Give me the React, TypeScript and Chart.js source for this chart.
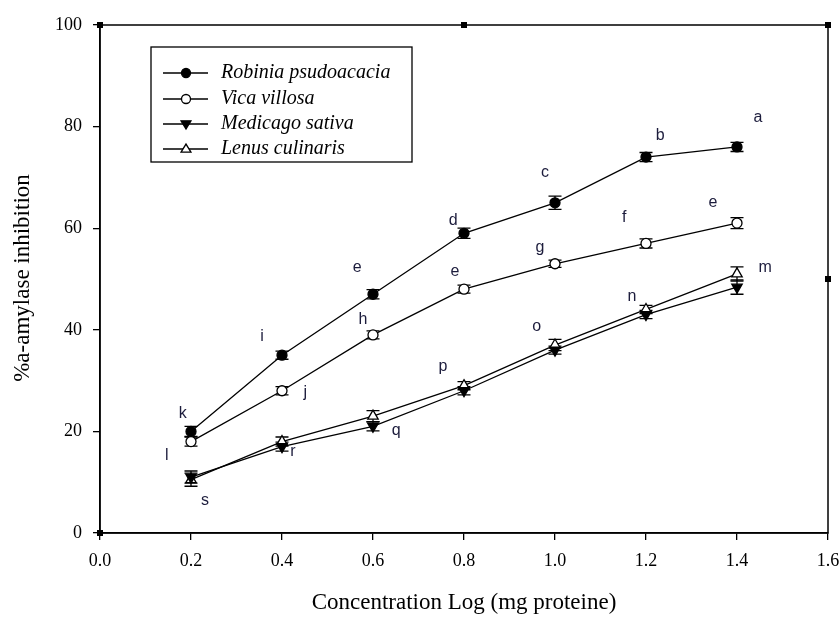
import React, { useEffect, useRef } from "react";
import { Chart, registerables } from "chart.js";

Chart.register(...registerables);

const xValues = [0.2, 0.4, 0.6, 0.8, 1.0, 1.2, 1.4];
const seriesNames = ["Robinia psudoacacia", "Vica villosa", "Medicago sativa", "Lenus culinaris"];
const robinia = [20, 35, 47, 59, 65, 74, 76];
const vica = [18, 28, 39, 48, 53, 57, 61];
const medicago = [11, 17, 21, 28, 36, 43, 48.4];
const lenus = [10.5, 18, 23, 29, 37, 44, 51];
const robiniaErr = [1, 0.8, 0.9, 1, 1.3, 0.9, 0.9];
const vicaErr = [0.9, 0.8, 0.8, 0.8, 0.7, 0.9, 1.1];
const medicagoErr = [1.2, 0.9, 0.9, 0.8, 0.8, 0.8, 1.4];
const lenusErr = [1.3, 0.9, 1.1, 0.8, 1.1, 0.8, 1.4];

const xTicks = [0, 0.2, 0.4, 0.6, 0.8, 1.0, 1.2, 1.4, 1.6];
const yTicks = [0, 20, 40, 60, 80, 100];

const letterText = ["k", "i", "e", "d", "c", "b", "a", "l", "s", "j", "h", "e", "g", "f", "e", "r", "q", "p", "o", "n", "m"];
const letterX = [0.182, 0.356, 0.565, 0.776, 0.978, 1.231, 1.446, 0.147, 0.231, 0.451, 0.578, 0.78, 0.967, 1.152, 1.347, 0.424, 0.651, 0.754, 0.96, 1.169, 1.462];
const letterY = [23.6, 38.6, 52.2, 61.4, 70.9, 78.3, 81.7, 15.2, 6.3, 27.6, 42.1, 51.4, 56.1, 62.0, 65.0, 16.1, 20.1, 32.7, 40.6, 46.5, 52.2];

const xTitle = "Concentration Log (mg proteine)";
const yTitle = "%a-amylase inhibition";

const errorSets = [robiniaErr, vicaErr, medicagoErr, lenusErr];

function drawMarker(ctx: CanvasRenderingContext2D, kind: number, x: number, y: number, r: number) {
  ctx.save();
  ctx.lineWidth = 1.3;
  ctx.strokeStyle = "#000";
  ctx.fillStyle = kind === 0 || kind === 2 ? "#000" : "#fff";
  ctx.beginPath();
  if (kind === 0 || kind === 1) {
    ctx.arc(x, y, r, 0, Math.PI * 2);
  } else if (kind === 2) {
    ctx.moveTo(x - r * 1.1, y - r * 0.7);
    ctx.lineTo(x + r * 1.1, y - r * 0.7);
    ctx.lineTo(x, y + r * 1.1);
    ctx.closePath();
  } else {
    ctx.moveTo(x - r * 1.1, y + r * 0.7);
    ctx.lineTo(x + r * 1.1, y + r * 0.7);
    ctx.lineTo(x, y - r * 1.1);
    ctx.closePath();
  }
  ctx.fill();
  ctx.stroke();
  ctx.restore();
}

const errorBarPlugin = {
  id: "errorBars",
  beforeDatasetsDraw(chart: any) {
    const ctx = chart.ctx;
    const xs = chart.scales.x;
    const ys = chart.scales.y;
    ctx.save();
    ctx.strokeStyle = "#000";
    ctx.lineWidth = 1.3;
    chart.data.datasets.forEach((ds: any, i: number) => {
      const errs = errorSets[i];
      ds.data.forEach((p: any, j: number) => {
        const px = xs.getPixelForValue(p.x);
        const top = ys.getPixelForValue(p.y + errs[j]);
        const bot = ys.getPixelForValue(p.y - errs[j]);
        ctx.beginPath();
        ctx.moveTo(px, top);
        ctx.lineTo(px, bot);
        ctx.moveTo(px - 6.5, top);
        ctx.lineTo(px + 6.5, top);
        ctx.moveTo(px - 6.5, bot);
        ctx.lineTo(px + 6.5, bot);
        ctx.stroke();
      });
    });
    ctx.restore();
  },
};

const decorPlugin = {
  id: "decor",
  afterDraw(chart: any) {
    const ctx = chart.ctx;
    const a = chart.chartArea;
    const xs = chart.scales.x;
    const ys = chart.scales.y;
    ctx.save();
    // frame
    ctx.strokeStyle = "#000";
    ctx.lineWidth = 1.5;
    ctx.strokeRect(a.left, a.top, a.right - a.left, a.bottom - a.top);
    // little squares
    ctx.fillStyle = "#000";
    const sq: [number, number][] = [[0, 100], [0.8, 100], [1.6, 100], [1.6, 50], [0, 0]];
    sq.forEach(([vx, vy]) => {
      const px = xs.getPixelForValue(vx);
      const py = ys.getPixelForValue(vy);
      ctx.fillRect(px - 3, py - 3, 6, 6);
    });
    // letters
    ctx.font = "16px 'Liberation Sans', Arial, sans-serif";
    ctx.fillStyle = "#1c1c3c";
    ctx.textAlign = "center";
    ctx.textBaseline = "middle";
    letterText.forEach((t, i) => {
      ctx.fillText(t, xs.getPixelForValue(letterX[i]), ys.getPixelForValue(letterY[i]));
    });
    // axis titles
    ctx.fillStyle = "#000";
    ctx.font = "23px 'Liberation Serif', 'Times New Roman', serif";
    ctx.textAlign = "center";
    ctx.textBaseline = "middle";
    ctx.fillText(xTitle, (a.left + a.right) / 2, 603);
    ctx.save();
    ctx.translate(23, 278);
    ctx.rotate(-Math.PI / 2);
    ctx.fillText(yTitle, 0, 0);
    ctx.restore();
    // legend
    ctx.lineWidth = 1.3;
    ctx.strokeStyle = "#000";
    ctx.strokeRect(151, 47, 261, 115);
    const rows = [73, 99, 124, 149];
    ctx.font = "italic 20px 'Liberation Serif', 'Times New Roman', serif";
    ctx.textAlign = "left";
    ctx.textBaseline = "middle";
    seriesNames.forEach((name, i) => {
      const y = rows[i];
      ctx.beginPath();
      ctx.moveTo(163, y);
      ctx.lineTo(208, y);
      ctx.stroke();
      drawMarker(ctx, i, 186, y, 4.5);
      ctx.fillStyle = "#000";
      ctx.fillText(name, 221, y);
    });
    ctx.restore();
  },
};

export default function App() {
  const ref = useRef<HTMLCanvasElement | null>(null);
  useEffect(() => {
    if (!ref.current) return;
    const mk = (vals: number[]) => xValues.map((x, i) => ({ x, y: vals[i] }));
    const common = {
      borderColor: "#000",
      borderWidth: 1.3,
      pointBorderColor: "#000",
      pointBorderWidth: 1.3,
      pointRadius: 5,
      showLine: true,
      tension: 0,
    };
    const chart = new Chart(ref.current, {
      type: "scatter",
      data: {
        datasets: [
          { ...common, label: seriesNames[0], data: mk(robinia), pointStyle: "circle", pointBackgroundColor: "#000" },
          { ...common, label: seriesNames[1], data: mk(vica), pointStyle: "circle", pointBackgroundColor: "#fff" },
          { ...common, label: seriesNames[2], data: mk(medicago), pointStyle: "triangle", pointRotation: 180, pointRadius: 6, pointBackgroundColor: "#000" },
          { ...common, label: seriesNames[3], data: mk(lenus), pointStyle: "triangle", pointRadius: 6, pointBackgroundColor: "#fff" },
        ] as any,
      },
      options: {
        animation: false,
        responsive: false,
        devicePixelRatio: 1,
        layout: { padding: { top: 25, right: 0, left: 0, bottom: 0 } },
        plugins: { legend: { display: false }, tooltip: { enabled: false } },
        scales: {
          x: {
            type: "linear",
            min: 0,
            max: 1.6,
            afterFit: (s: any) => { s.height = 84; s.paddingRight = 12; },
            afterBuildTicks: (s: any) => { s.ticks = xTicks.map((v) => ({ value: v })); },
            ticks: {
              color: "#000",
              padding: 10,
              font: { family: "'Liberation Serif', 'Times New Roman', serif", size: 18 },
              callback: (v: any) => Number(v).toFixed(1),
            },
            grid: { drawOnChartArea: false, drawTicks: true, tickLength: 7, color: "#000", lineWidth: 1.3 },
            border: { display: true, color: "#000", width: 1.5 },
          },
          y: {
            type: "linear",
            min: 0,
            max: 100,
            afterFit: (s: any) => { s.width = 100; },
            afterBuildTicks: (s: any) => { s.ticks = yTicks.map((v) => ({ value: v })); },
            ticks: {
              color: "#000",
              padding: 11,
              font: { family: "'Liberation Serif', 'Times New Roman', serif", size: 18 },
            },
            grid: { drawOnChartArea: false, drawTicks: true, tickLength: 7, color: "#000", lineWidth: 1.3 },
            border: { display: true, color: "#000", width: 1.5 },
          },
        },
      },
      plugins: [errorBarPlugin, decorPlugin],
    });
    return () => chart.destroy();
  }, []);
  return (
    <div style={{ position: "fixed", left: 0, top: 0, width: 840, height: 617, background: "#fff" }}>
      <canvas ref={ref} width={840} height={617} style={{ width: 840, height: 617 }} />
    </div>
  );
}
